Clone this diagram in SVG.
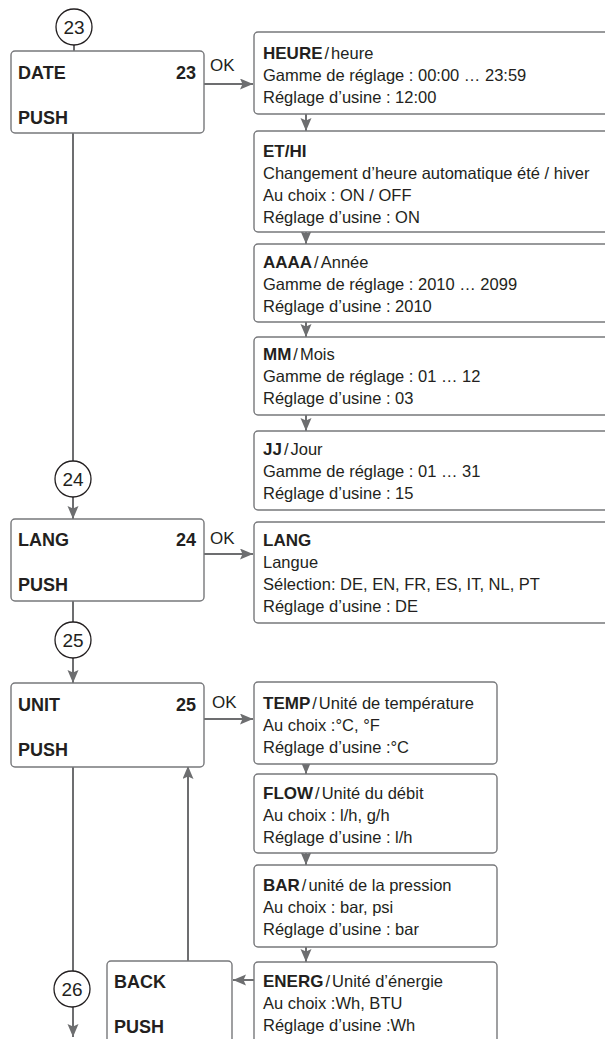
<svg xmlns="http://www.w3.org/2000/svg" width="605" height="1039" viewBox="0 0 605 1039">
<defs>
<marker id="ah" markerUnits="userSpaceOnUse" markerWidth="14" markerHeight="12" refX="13" refY="5.5" orient="auto">
<path d="M0,0 L13,5.5 L0,11 L2.5,5.5 z" fill="#6d6e70"/>
</marker>
<style>
.box{fill:#fff;stroke:#77787b;stroke-width:1.4}
.circ{fill:#fff;stroke:#231f20;stroke-width:1.3}
.ln{fill:none;stroke:#6d6e70;stroke-width:2}
.arr{fill:none;stroke:#6d6e70;stroke-width:2;marker-end:url(#ah)}
text{font-family:"Liberation Sans",Arial,sans-serif;fill:#231f20}
.lb{font-size:18px;font-weight:bold}
.t{font-size:16.5px}
.b{font-weight:bold;font-size:17px}
.ok{font-size:17px}
.cn{font-size:19px;text-anchor:middle}
</style>
</defs>
<rect width="605" height="1039" fill="#fff"/>

<g id="connectors">
<line class="ln" x1="74" y1="45" x2="74" y2="51"/>
<line class="ln" x1="73" y1="128" x2="73" y2="461"/>
<line class="arr" x1="73" y1="497" x2="73" y2="519"/>
<line class="ln" x1="73" y1="601" x2="73" y2="622"/>
<line class="arr" x1="73" y1="658" x2="73" y2="683"/>
<line class="ln" x1="73" y1="762" x2="73" y2="971"/>
<line class="arr" x1="73" y1="1007" x2="73" y2="1037"/>
<line class="arr" x1="204" y1="84" x2="253" y2="84"/>
<line class="arr" x1="204" y1="554" x2="253" y2="554"/>
<line class="arr" x1="204" y1="719" x2="253" y2="719"/>
<line class="arr" x1="306" y1="114" x2="306" y2="131"/>
<line class="arr" x1="306" y1="232" x2="306" y2="244"/>
<line class="arr" x1="306" y1="322" x2="306" y2="337"/>
<line class="arr" x1="306" y1="415" x2="306" y2="431"/>
<line class="arr" x1="306" y1="764" x2="306" y2="774"/>
<line class="arr" x1="306" y1="853" x2="306" y2="865"/>
<line class="arr" x1="306" y1="947" x2="306" y2="962"/>
<line class="arr" x1="254" y1="980" x2="233" y2="980"/>
<line class="arr" x1="188" y1="961" x2="188" y2="766"/>
</g>

<g id="c23"><circle class="circ" cx="74" cy="27" r="18"/><text class="cn" x="74" y="34">23</text></g>
<g id="c24"><circle class="circ" cx="73" cy="479" r="18"/><text class="cn" x="73" y="486">24</text></g>
<g id="c25"><circle class="circ" cx="73" cy="640" r="18"/><text class="cn" x="73" y="647">25</text></g>
<g id="c26"><circle class="circ" cx="72" cy="989" r="18"/><text class="cn" x="72" y="996">26</text></g>

<g id="date">
<rect class="box" x="11" y="51" width="193" height="82" rx="4"/>
<text class="lb" x="18" y="79">DATE</text>
<text class="lb" x="196" y="79" text-anchor="end">23</text>
<text class="lb" x="18" y="124">PUSH</text>
<text class="ok" x="210" y="71">OK</text>
</g>

<g id="lang">
<rect class="box" x="11" y="519" width="193" height="82" rx="4"/>
<text class="lb" x="18" y="546">LANG</text>
<text class="lb" x="196" y="546" text-anchor="end">24</text>
<text class="lb" x="18" y="591">PUSH</text>
<text class="ok" x="210" y="544">OK</text>
</g>

<g id="unit">
<rect class="box" x="11" y="683" width="193" height="84" rx="4"/>
<text class="lb" x="18" y="711">UNIT</text>
<text class="lb" x="196" y="711" text-anchor="end">25</text>
<text class="lb" x="18" y="756">PUSH</text>
<text class="ok" x="212" y="708">OK</text>
</g>

<g id="back">
<rect class="box" x="107" y="961" width="125" height="100" rx="4"/>
<text class="lb" x="114" y="988">BACK</text>
<text class="lb" x="114" y="1033">PUSH</text>
</g>

<g id="heure">
<rect class="box" x="254" y="32" width="370" height="82" rx="4"/>
<text class="t" x="263" y="59"><tspan class="b">HEURE</tspan><tspan dx="2">/</tspan><tspan dx="2">heure</tspan></text>
<text class="t" x="263" y="81">Gamme de réglage : 00:00 … 23:59</text>
<text class="t" x="263" y="103">Réglage d’usine : 12:00</text>
</g>

<g id="ethi">
<rect class="box" x="254" y="131" width="370" height="101" rx="4"/>
<text class="t" x="263" y="157"><tspan class="b">ET/HI</tspan></text>
<text class="t" x="263" y="179">Changement d’heure automatique été / hiver</text>
<text class="t" x="263" y="201">Au choix : ON / OFF</text>
<text class="t" x="263" y="223">Réglage d’usine : ON</text>
</g>

<g id="aaaa">
<rect class="box" x="254" y="244" width="370" height="78" rx="4"/>
<text class="t" x="263" y="268"><tspan class="b">AAAA</tspan><tspan dx="2">/</tspan><tspan dx="2">Année</tspan></text>
<text class="t" x="263" y="290">Gamme de réglage : 2010 … 2099</text>
<text class="t" x="263" y="312">Réglage d’usine : 2010</text>
</g>

<g id="mm">
<rect class="box" x="254" y="337" width="370" height="78" rx="4"/>
<text class="t" x="263" y="360"><tspan class="b">MM</tspan><tspan dx="2">/</tspan><tspan dx="2">Mois</tspan></text>
<text class="t" x="263" y="382">Gamme de réglage : 01 … 12</text>
<text class="t" x="263" y="404">Réglage d’usine : 03</text>
</g>

<g id="jj">
<rect class="box" x="254" y="431" width="370" height="79" rx="4"/>
<text class="t" x="263" y="455"><tspan class="b">JJ</tspan><tspan dx="2">/</tspan><tspan dx="2">Jour</tspan></text>
<text class="t" x="263" y="477">Gamme de réglage : 01 … 31</text>
<text class="t" x="263" y="499">Réglage d’usine : 15</text>
</g>

<g id="langue">
<rect class="box" x="254" y="522" width="370" height="101" rx="4"/>
<text class="t" x="263" y="546"><tspan class="b">LANG</tspan></text>
<text class="t" x="263" y="568">Langue</text>
<text class="t" x="263" y="590">Sélection: DE, EN, FR, ES, IT, NL, PT</text>
<text class="t" x="263" y="612">Réglage d’usine : DE</text>
</g>

<g id="temp">
<rect class="box" x="254" y="682" width="243" height="82" rx="4"/>
<text class="t" x="263" y="709"><tspan class="b">TEMP</tspan><tspan dx="2">/</tspan><tspan dx="2">Unité de température</tspan></text>
<text class="t" x="263" y="731">Au choix :°C, °F</text>
<text class="t" x="263" y="753">Réglage d’usine :°C</text>
</g>

<g id="flow">
<rect class="box" x="254" y="774" width="243" height="79" rx="4"/>
<text class="t" x="263" y="799"><tspan class="b">FLOW</tspan><tspan dx="2">/</tspan><tspan dx="2">Unité du débit</tspan></text>
<text class="t" x="263" y="821">Au choix : l/h, g/h</text>
<text class="t" x="263" y="843">Réglage d’usine : l/h</text>
</g>

<g id="bar">
<rect class="box" x="254" y="865" width="243" height="82" rx="4"/>
<text class="t" x="263" y="891"><tspan class="b">BAR</tspan><tspan dx="2">/</tspan><tspan dx="2">unité de la pression</tspan></text>
<text class="t" x="263" y="913">Au choix : bar, psi</text>
<text class="t" x="263" y="935">Réglage d’usine : bar</text>
</g>

<g id="energ">
<rect class="box" x="254" y="962" width="243" height="100" rx="4"/>
<text class="t" x="263" y="987"><tspan class="b">ENERG</tspan><tspan dx="2">/</tspan><tspan dx="2">Unité d’énergie</tspan></text>
<text class="t" x="263" y="1009">Au choix :Wh, BTU</text>
<text class="t" x="263" y="1031">Réglage d’usine :Wh</text>
</g>
</svg>
